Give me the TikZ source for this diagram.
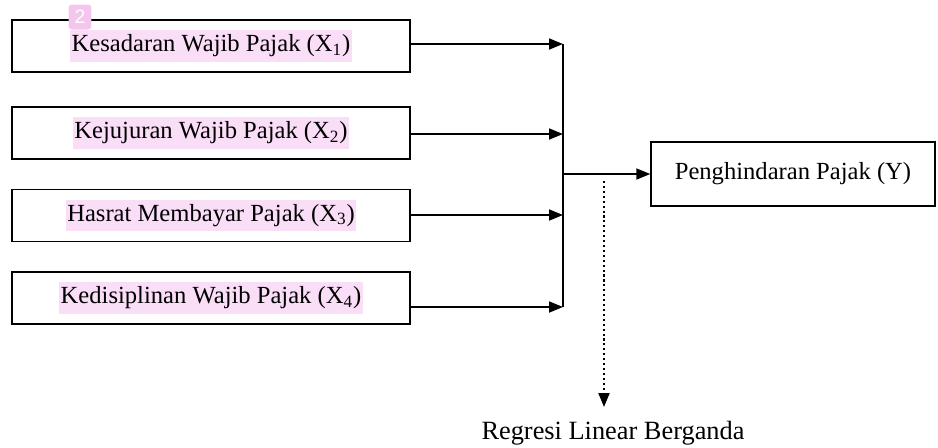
\documentclass[tikz,border=0pt]{standalone}
\usepackage{fontspec}
\setmainfont{Liberation Serif}
\setsansfont{Liberation Sans}
\usetikzlibrary{arrows.meta, positioning}
\definecolor{hlpink}{RGB}{250,221,246}
\definecolor{markpink}{RGB}{244,198,238}
\newcommand{\hlt}[1]{{\setlength{\fboxsep}{1pt}\colorbox{hlpink}{\strut #1}}}
\tikzset{
    varbox/.style={rectangle, draw, line width=0.8pt, minimum width=7.96cm, minimum height=1.04cm, align=center, inner sep=0pt, font=\fontsize{14}{16}\selectfont},
    ybox/.style={rectangle, draw, line width=0.8pt, minimum width=5.68cm, minimum height=1.28cm, align=center, inner sep=0pt, font=\fontsize{14}{16}\selectfont},
    arrow/.style={line width=1pt, -{Triangle[length=0.28cm, width=0.22cm]}},
    link/.style={line width=1pt},
    dotarrow/.style={line width=1.2pt, dash pattern=on 1.2pt off 1.6pt, -{Triangle[length=0.28cm, width=0.22cm]}}
}

\begin{document}
\begin{tikzpicture}[x=0.02cm, y=-0.02cm]
    \useasboundingbox (0,0) rectangle (938,447);

    % variabel independen
    \node (x1) [varbox] at (211,46) {\hlt{Kesadaran Wajib Pajak (X\textsubscript{1})}};
    \node (x2) [varbox] at (211,133) {\hlt{Kejujuran Wajib Pajak (X\textsubscript{2})}};
    \node (x3) [varbox] at (211,215.5) {\hlt{Hasrat Membayar Pajak (X\textsubscript{3})}};
    \node (x4) [varbox] at (211,298) {\hlt{Kedisiplinan Wajib Pajak (X\textsubscript{4})}};
    \node (mark) [fill=markpink, rounded corners=2pt, minimum width=0.46cm, minimum height=0.5cm, inner sep=0pt, text=white, font=\sffamily\fontsize{11}{12}\selectfont] at (80,17) {2};

    % variabel dependen
    \node (y) [ybox] at (793,174) {\raisebox{0.12cm}{Penghindaran Pajak (Y)}};
    \node (reg) [font=\fontsize{15}{17}\selectfont] at (613,433) {Regresi Linear Berganda};

    \coordinate (j1) at (563,44);
    \coordinate (j2) at (563,134);
    \coordinate (j3) at (563,215);
    \coordinate (j4) at (563,307);
    \coordinate (jm) at (563,174);
    \coordinate (dtop) at (604,181);
    \coordinate (dend) at (604,407);

    \draw [arrow] (x1.east |- j1) -- (j1);
    \draw [arrow] (x2.east |- j2) -- (j2);
    \draw [arrow] (x3.east |- j3) -- (j3);
    \draw [arrow] (x4.east |- j4) -- (j4);
    \draw [link] (j1) -- (j4);
    \draw [arrow] (jm) -- (y.west);
    \draw [dotarrow] (dtop) -- (dend);
\end{tikzpicture}
\end{document}
